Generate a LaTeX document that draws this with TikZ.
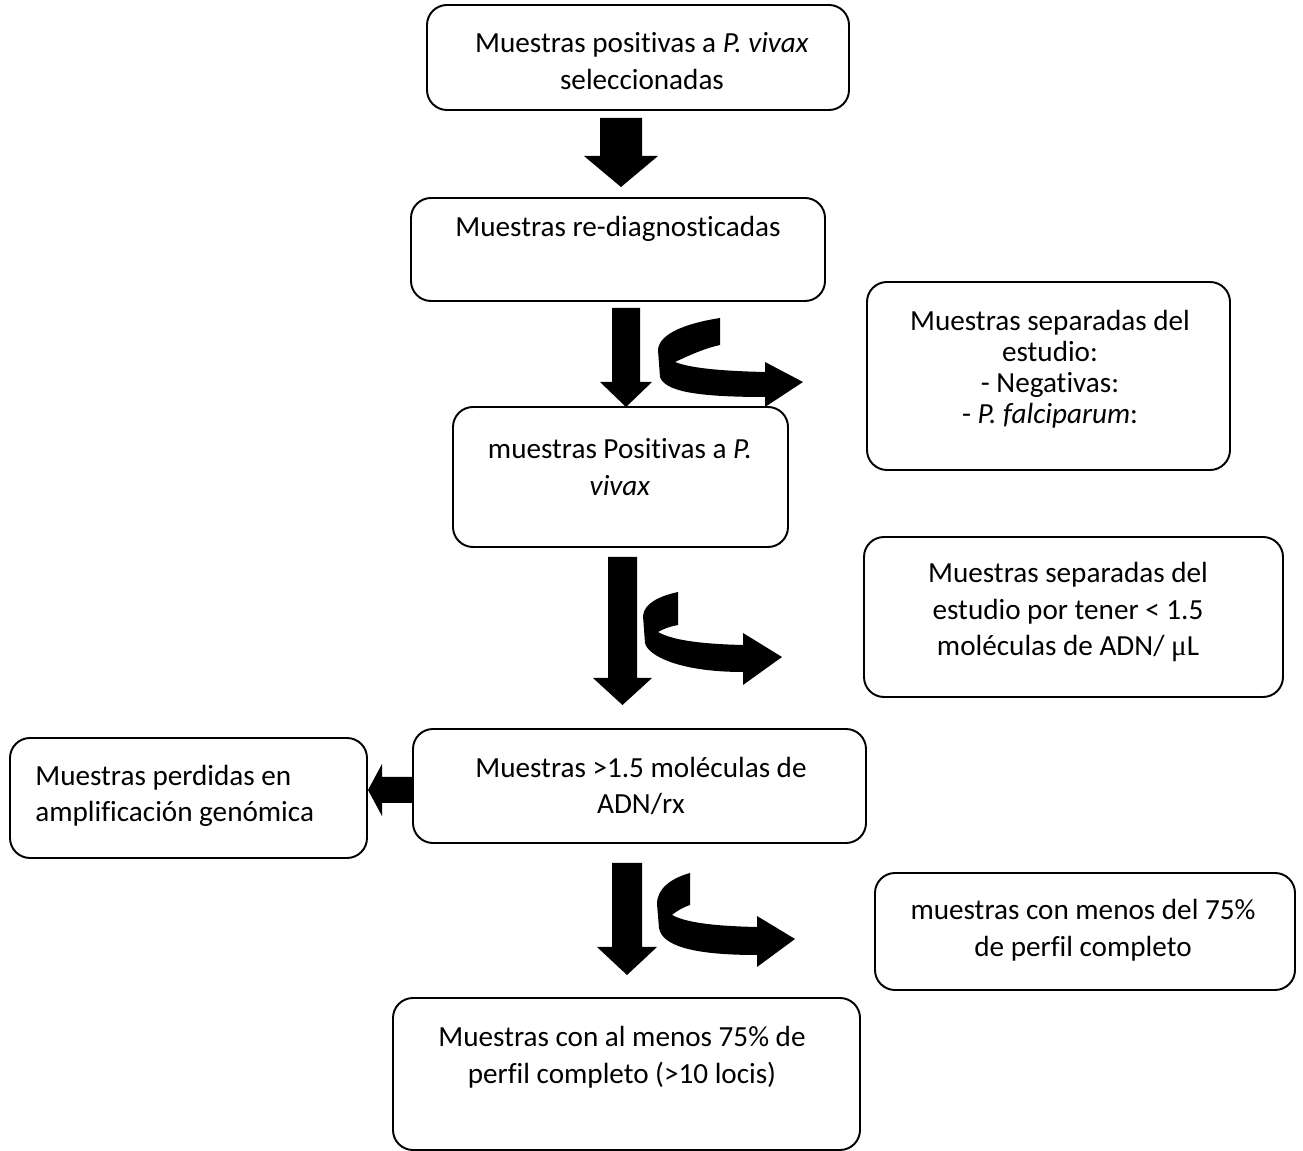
\documentclass[tikz,border=0pt]{standalone}
\usepackage{fontspec}
\setmainfont{Carlito}[Ligatures=NoCommon]
\newfontfamily\mufont{Liberation Serif}
\usetikzlibrary{positioning, calc, fit}

\begin{document}
\begin{tikzpicture}[
      x=0.02cm, y=-0.02cm, % one unit per pixel, y downwards
      box/.style={draw, line width=1.1pt, rounded corners=0.4cm, inner sep=0pt},
      txt/.style={font=\fontsize{16.6}{20.8}\selectfont, align=center, inner sep=0pt},
      blockarrow/.style={fill=black, draw=none},
    ]
    \useasboundingbox (0,0) rectangle (1303,1151);

    % ---- main column ------------------------------------------------------
    \node[box, fit={(427,5) (849,110)}]     (select) {};
    \node[box, fit={(411,198) (825,301)}]   (rediag) {};
    \node[box, fit={(453,407) (788,547)}]   (posviv) {};
    \node[box, fit={(413,729) (866,843)}]   (mol) {};
    \node[box, fit={(393,998) (860,1150)}]  (perfil) {};

    % ---- side boxes -------------------------------------------------------
    \node[box, fit={(867,282) (1230,470)}]  (sepneg) {};
    \node[box, fit={(864,537) (1283,697)}]  (sepmol) {};
    \node[box, fit={(10,738) (367,858)}]    (perd) {};
    \node[box, fit={(875,873) (1295,990)}]  (menos) {};

    % ---- texts ------------------------------------------------------------
    \node[txt] (select-t) at (642,61) {Muestras positivas a \textit{P. vivax}\\seleccionadas};
    \node[txt] (rediag-t) at (618,229) {Muestras re-diagnosticadas};
    \node[txt] (posviv-t) at (620,467) {muestras Positivas a \textit{P.}\\\textit{vivax}};
    \node[txt] (mol-t) at (641,786) {Muestras >1.5 moléculas de\\ADN/rx};
    \node[txt] (perfil-t) at (622,1057) {Muestras con al menos 75\% de\\perfil completo (>10 locis)};
    \node[txt, font=\fontsize{16.6}{17.7}\selectfont] (sepneg-t) at (1050,369)
      {Muestras separadas del\\estudio:\\- Negativas:\\- \textit{P. falciparum}:};
    \node[txt] (sepmol-t) at (1068,612)
      {Muestras separadas del\\estudio por tener < 1.5\\moléculas de ADN/ {\mufont μ}L};
    \node[txt, align=left, anchor=west] (perd-t) at (35,796) {Muestras perdidas en\\amplificación genómica};
    \node[txt] (menos-t) at (1083,930) {muestras con menos del 75\%\\de perfil completo};

    % ---- straight block arrows: centre/top/shaft/head/head top/tip --------
    \foreach \cx/\ya/\sw/\hw/\yb/\yc in {621/118/21/37/156/187, 626/308/14/26/382/407,
                                         622.5/557/14.5/29.5/678/705, 627/863/15/30/947/975}{%
      \fill[blockarrow] (\cx-\sw,\ya) -- (\cx+\sw,\ya) -- (\cx+\sw,\yb) -- (\cx+\hw,\yb)
        -- (\cx,\yc) -- (\cx-\hw,\yb) -- (\cx-\sw,\yb) -- cycle;
    }
    \fill[blockarrow] (mol.west |- 0,777) -- (382,777) -- (382,764) -- (368,790)
      -- (382,816) -- (382,803) -- (mol.west |- 0,803) -- cycle;

    % ---- curved block arrows ----------------------------------------------
    \fill[blockarrow] (720,318) .. controls (688,323) and (659,333) .. (658,350)
      -- (660,377) .. controls (665,391) and (695,397) .. (765,397)
      -- (765,407) -- (803,382) -- (765,362) -- (765,372)
      .. controls (720,371) and (690,368) .. (675,362)
      .. controls (692,354) and (706,348) .. (720,345) -- cycle;
    \fill[blockarrow] (678,592) .. controls (660,596) and (644,603) .. (643,616)
      -- (645,643) .. controls (648,656) and (680,672) .. (743,672)
      -- (743,685) -- (782,657) -- (743,633) -- (743,645)
      .. controls (700,644) and (672,640) .. (658,632)
      .. controls (665,628) and (672,626) .. (678,625) -- cycle;
    \fill[blockarrow] (690,873) .. controls (672,878) and (657,888) .. (657,904)
      -- (659,928) .. controls (662,945) and (690,955) .. (757,955)
      -- (757,967) -- (795,939) -- (757,916) -- (757,927)
      .. controls (710,926) and (685,922) .. (672,915)
      .. controls (678,910) and (684,907) .. (690,905) -- cycle;
  \end{tikzpicture}
\end{document}
